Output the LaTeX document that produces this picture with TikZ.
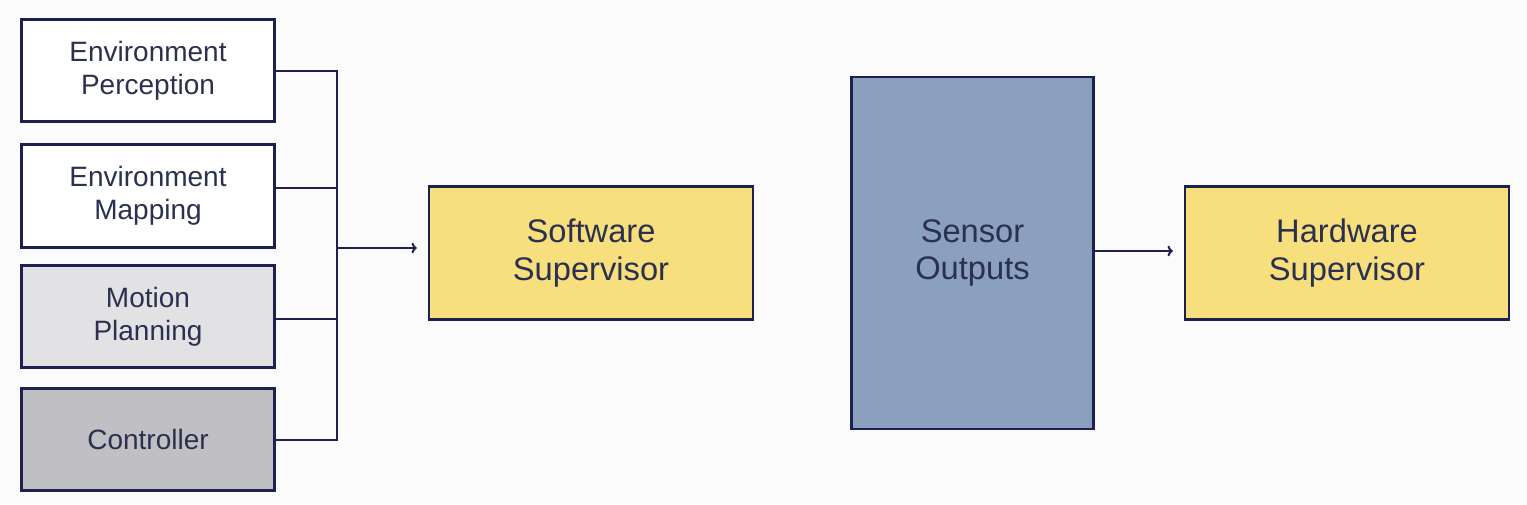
\documentclass[tikz,border=0pt]{standalone}
\usepackage{fontspec}
\setmainfont{Liberation Sans}
\usepackage{xcolor}
\usetikzlibrary{positioning,calc,arrows.meta}

\definecolor{navy}{HTML}{1C2150}
\definecolor{inkblue}{HTML}{2A3050}
\definecolor{swyellow}{HTML}{F8DF7E}
\definecolor{sensblue}{HTML}{8AA0BE}
\definecolor{lightgrey}{HTML}{E2E2E4}
\definecolor{midgrey}{HTML}{C0C0C4}
\definecolor{paper}{HTML}{FBFBFB}

\tikzset{
    module/.style={draw=navy, line width=2.2pt, minimum width=190pt, minimum height=77pt,
        align=center, text=inkblue, font=\fontsize{21}{25}\selectfont},
    supervisor/.style={draw=navy, line width=2.2pt, fill=swyellow, minimum width=243pt,
        minimum height=100pt, align=center, text=inkblue, font=\fontsize{24.5}{28}\selectfont},
    link/.style={draw=navy, line width=1.5pt}
}

\begin{document}
\begin{tikzpicture}[x=0.75pt, y=-0.75pt]
    % page
    \fill[paper] (0,0) rectangle (1527,504);
    \useasboundingbox (0,0) rectangle (1527,504);

    % Software modules
    \node[module, fill=white] (perc) at (148, 70.5) {Environment\\Perception};
    \node[module, fill=white] (mapp) at (148, 196) {Environment\\Mapping};
    \node[module, fill=lightgrey] (plan) at (148, 316.5) {Motion\\Planning};
    \node[module, fill=midgrey] (ctrl) at (148, 439.5) {Controller};

    % Supervisors and sensors
    \node[supervisor] (sw) at (591, 253) {Software\\Supervisor};
    \node[draw=navy, line width=2.2pt, fill=sensblue, minimum width=181pt, minimum height=264pt,
        align=center, text=inkblue, font=\fontsize{24.5}{28}\selectfont] (sens) at (972.5, 253) {Sensor\\Outputs};
    \node[supervisor] (hw) at (1347, 253) {Hardware\\Supervisor};

    % Bus
    \coordinate (bus) at (337, 248);
    \draw[link] (perc.east) -- (perc.east -| bus) -- (ctrl.east -| bus) -- (ctrl.east);
    \draw[link] ([yshift=6pt]mapp.east) -- ([yshift=6pt]mapp.east -| bus);
    \draw[link] ([yshift=-2pt]plan.east) -- ([yshift=-2pt]plan.east -| bus);

    % Arrows
    \draw[link, -{To[length=4pt,width=8pt]}, shorten >=8pt] (bus) -- (bus -| sw.west);
    \draw[link, -{To[length=4pt,width=8pt]}, shorten >=8pt] ([yshift=1.5pt]sens.east) -- ([yshift=1.5pt]sens.east -| hw.west);
\end{tikzpicture}
\end{document}
